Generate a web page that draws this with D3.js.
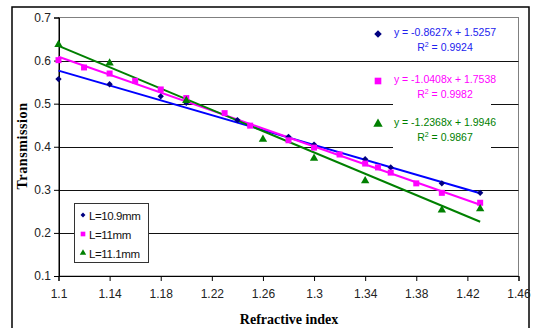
<!DOCTYPE html>
<html>
  <head>
    <meta charset="utf-8">
    <title>transmission vs refractive index</title>
    <script src="https://d3js.org/d3.v7.min.js"></script>
  </head>
  <style>
    body { margin: 0; background: #fff; }
    .tick-label { font-family: Arial, "Liberation Sans", sans-serif; font-size: 12px; fill: #222; }
    .legend-label { font-family: Arial, "Liberation Sans", sans-serif; font-size: 11.5px; letter-spacing: -0.4px; fill: #111; }
    .title { font-family: "Times New Roman", "Liberation Serif", serif; font-weight: bold; font-size: 14px; }
    .eq { font-family: Arial, "Liberation Sans", sans-serif; font-size: 10.5px; }
  </style>
  <body>
    <script>
      const width = 533;
      const height = 328;

      // series data
      const xBlue = [1.1, 1.14, 1.18, 1.2, 1.24, 1.28, 1.3, 1.34, 1.36, 1.4, 1.43];
      const yBlue = [0.557, 0.545, 0.517, 0.502, 0.462, 0.423, 0.405, 0.371, 0.352, 0.315, 0.293];

      const xPink = [1.1, 1.12, 1.14, 1.16, 1.18, 1.2, 1.23, 1.25, 1.28, 1.3, 1.32, 1.34, 1.35, 1.36, 1.38, 1.4, 1.43];
      const yPink = [0.601, 0.584, 0.570, 0.553, 0.533, 0.513, 0.478, 0.449, 0.415, 0.398, 0.382, 0.361, 0.352, 0.340, 0.315, 0.293, 0.270];

      const xGreen = [1.1, 1.14, 1.2, 1.26, 1.3, 1.34, 1.4, 1.43];
      const yGreen = [0.637, 0.594, 0.507, 0.417, 0.373, 0.321, 0.253, 0.256];

      // linear trend lines: slope, intercept
      const slopes = [-0.8627, -1.0408, -1.2368];
      const intercepts = [1.5257, 1.7538, 1.9946];
      const equations = ["y = -0.8627x + 1.5257", "y = -1.0408x + 1.7538", "y = -1.2368x + 1.9946"];
      const rSquared = ["0.9924", "0.9982", "0.9867"];

      const legendLabels = ["L=10.9mm", "L=11mm", "L=11.1mm"];
      const xTicks = [1.1, 1.14, 1.18, 1.22, 1.26, 1.3, 1.34, 1.38, 1.42, 1.46];
      const yTicks = [0.1, 0.2, 0.3, 0.4, 0.5, 0.6, 0.7];

      const series = [
        {xs: xBlue, ys: yBlue, marker: "#000080", line: "#0000ff", text: "#2222ee", symbol: d3.symbolSquare, rot: 45, size: 20},
        {xs: xPink, ys: yPink, marker: "#ff00ff", line: "#ff00ff", text: "#ff00ff", symbol: d3.symbolSquare, rot: 0, size: 36},
        {xs: xGreen, ys: yGreen, marker: "#008000", line: "#008000", text: "#008000", symbol: d3.symbolTriangle, rot: 0, size: 30}
      ];

      const xScale = d3.scaleLinear().domain([1.1, 1.46]).range([58.5, 518.5]);
      const yScale = d3.scaleLinear().domain([0.1, 0.7]).range([276, 17.5]);

      const svg = d3.select("body").append("svg")
          .attr("width", width)
          .attr("height", height);

      // chart border
      svg.append("rect")
          .attr("x", 12).attr("y", 7)
          .attr("width", 517).attr("height", 330)
          .attr("fill", "#fff")
          .attr("stroke", "#000")
          .attr("stroke-width", 1.5);

      // plot area border (grey)
      svg.append("rect")
          .attr("x", xScale(1.1)).attr("y", yScale(0.7))
          .attr("width", xScale(1.46) - xScale(1.1))
          .attr("height", yScale(0.1) - yScale(0.7))
          .attr("fill", "none")
          .attr("stroke", "#808080");

      // grid lines
      svg.append("g").selectAll("line")
        .data(yTicks.slice(1, -1))
        .enter().append("line")
          .attr("x1", xScale(1.1)).attr("x2", xScale(1.46))
          .attr("y1", d => Math.round(yScale(d)) + 0.5)
          .attr("y2", d => Math.round(yScale(d)) + 0.5)
          .attr("stroke", "#111");

      // axes
      const xAxis = d3.axisBottom(xScale).tickValues(xTicks).tickSize(5).tickFormat(d => d3.format("")(+d.toFixed(2)));
      const gx = svg.append("g")
          .attr("transform", "translate(0," + Math.round(yScale(0.1)) + ")")
          .call(xAxis);
      gx.select(".domain").attr("stroke", "#000");
      gx.selectAll("text").attr("class", "tick-label").attr("dy", "1.2em").attr("font-size", null).attr("font-family", null);

      const yAxis = d3.axisLeft(yScale).tickValues(yTicks).tickSize(5).tickFormat(d => d3.format("")(+d.toFixed(1)));
      const gy = svg.append("g")
          .attr("transform", "translate(" + Math.round(xScale(1.1)) + ",0)")
          .call(yAxis);
      gy.selectAll("text").attr("class", "tick-label").attr("x", -8).attr("font-size", null).attr("font-family", null);

      // trend lines
      series.forEach(function(s, i) {
        svg.append("line")
            .attr("x1", xScale(1.1)).attr("y1", yScale(slopes[i] * 1.1 + intercepts[i]))
            .attr("x2", xScale(1.43)).attr("y2", yScale(slopes[i] * 1.43 + intercepts[i]))
            .attr("stroke", s.line)
            .attr("stroke-width", 2);
      });

      // markers
      series.forEach(function(s) {
        svg.append("g").selectAll("path")
          .data(s.xs)
          .enter().append("path")
            .attr("d", d3.symbol().type(s.symbol).size(s.size))
            .attr("transform", (d, i) => "translate(" + xScale(d) + "," + yScale(s.ys[i]) + ") rotate(" + s.rot + ")")
            .attr("fill", s.marker);
      });

      // equation labels with white boxes
      const eqY = [32, 79, 122];
      series.forEach(function(s, i) {
        const g = svg.append("g");
        if (i > 0) {
          g.append("rect")
              .attr("x", 393).attr("y", eqY[i] - 10)
              .attr("width", 98).attr("height", 40)
              .attr("fill", "#fff");
        }
        g.append("path")
            .attr("d", d3.symbol().type(s.symbol).size(s.size + 8))
            .attr("transform", "translate(378," + (eqY[i] + 2) + ") rotate(" + s.rot + ")")
            .attr("fill", s.i === 0 ? s.marker : s.marker);
        g.append("text")
            .attr("class", "eq")
            .attr("x", 445).attr("y", eqY[i] + 4)
            .attr("text-anchor", "middle")
            .attr("fill", s.text)
            .text(equations[i]);
        const r = g.append("text")
            .attr("class", "eq")
            .attr("x", 445).attr("y", eqY[i] + 19)
            .attr("text-anchor", "middle")
            .attr("fill", s.text);
        r.append("tspan").text("R");
        r.append("tspan").attr("font-size", "7px").attr("dy", -4).text("2");
        r.append("tspan").attr("dy", 4).text(" = " + rSquared[i]);
      });

      // legend
      const legend = svg.append("g");
      legend.append("rect")
          .attr("x", 74.5).attr("y", 203.5)
          .attr("width", 74).attr("height", 59)
          .attr("fill", "#fff")
          .attr("stroke", "#333");
      const rowY = [215, 234, 253];
      series.forEach(function(s, i) {
        legend.append("path")
            .attr("d", d3.symbol().type(s.symbol).size(s.size * 0.6))
            .attr("transform", "translate(83," + rowY[i] + ") rotate(" + s.rot + ")")
            .attr("fill", s.marker);
        legend.append("text")
            .attr("class", "legend-label")
            .attr("x", 89).attr("y", rowY[i] + 4.5)
            .text(legendLabels[i]);
      });

      // axis titles
      svg.append("text")
          .attr("class", "title")
          .attr("x", 289).attr("y", 324)
          .attr("text-anchor", "middle")
          .text("Refractive index");

      svg.append("text")
          .attr("class", "title")
          .attr("transform", "translate(27,146) rotate(-90)")
          .attr("text-anchor", "middle")
          .attr("letter-spacing", "0.6px")
          .text("Transmission");
    </script>
  </body>
</html>
